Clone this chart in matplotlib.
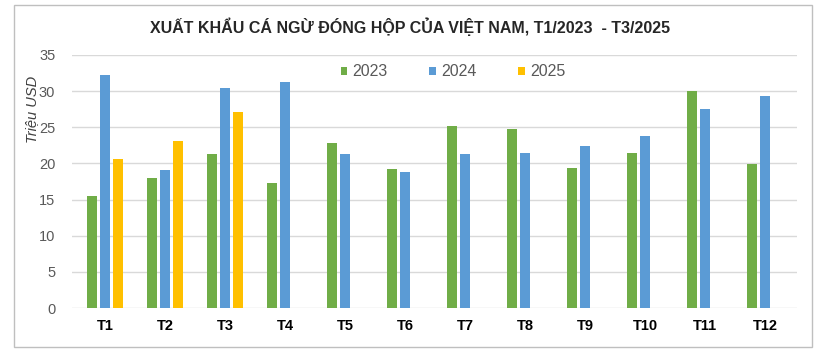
import numpy as np
import matplotlib
matplotlib.use("Agg")
import matplotlib.pyplot as plt
from matplotlib.patches import Rectangle

months = ["T1", "T2", "T3", "T4", "T5", "T6", "T7", "T8", "T9", "T10", "T11", "T12"]
v2023 = [15.5, 18.0, 21.3, 17.3, 22.8, 19.2, 25.2, 24.8, 19.3, 21.4, 30.0, 19.9]
v2024 = [32.2, 19.1, 30.4, 31.2, 21.3, 18.8, 21.3, 21.4, 22.4, 23.8, 27.5, 29.3]
v2025 = [20.6, 23.1, 27.1]
yticks = [0, 5, 10, 15, 20, 25, 30, 35]

GREEN = "#70AD47"
BLUE = "#5B9BD5"
YELLOW = "#FFC000"

plt.rcParams['font.family'] = ['Liberation Sans', 'DejaVu Sans']

fig = plt.figure(figsize=(8.21, 3.57), dpi=100)
# light frame round the whole chart
fig.patches.append(Rectangle((14 / 821, 1 - 347 / 357), 798 / 821, 342 / 357,
                             transform=fig.transFigure, fill=False,
                             edgecolor="#BFBFBF", linewidth=1))

ax = fig.add_axes([72 / 821, 1 - 308 / 357, 725 / 821, 253 / 357])

x = np.arange(len(months))
w = 0.165
step = 0.217
ax.bar(x - step, v2023, width=w, color=GREEN, label="2023", zorder=3)
ax.bar(x, v2024, width=w, color=BLUE, label="2024", zorder=3)
ax.bar(x[:len(v2025)] + step, v2025, width=w, color=YELLOW, label="2025", zorder=3)

ax.set_xlim(-0.55, 11.53)
ax.set_ylim(0, 35)
ax.set_yticks(yticks)
ax.set_xticks(x)
ax.set_xticklabels(months, fontweight="bold", fontsize=10.5, color="#000000")
ax.tick_params(axis="y", labelsize=10.5, labelcolor="#595959", length=0, pad=12)
ax.tick_params(axis="x", length=0, pad=8)
ax.grid(axis="y", color="#D9D9D9", linewidth=1, zorder=0)
for s in ax.spines.values():
    s.set_visible(False)

fig.text(32 / 821, 1 - 109 / 357, "Triệu USD", rotation=90, style="italic",
         fontsize=10.5, color="#404040", ha="center", va="center")

fig.text(410 / 821, 1 - 27 / 357, "XUẤT KHẨU CÁ NGỪ ĐÓNG HỘP CỦA VIỆT NAM, T1/2023  - T3/2025",
         fontsize=11.5, fontweight="bold", color="#262626", ha="center", va="center")

leg = fig.legend(*ax.get_legend_handles_labels(), loc="center",
                 bbox_to_anchor=(453 / 821, 1 - 72 / 357), ncol=3, frameon=False,
                 fontsize=11.5, handlelength=0.4, handleheight=0.4, handletextpad=0.35,
                 columnspacing=2.6)
for t in leg.get_texts():
    t.set_color("#595959")

fig.savefig("out.png", dpi=100)
